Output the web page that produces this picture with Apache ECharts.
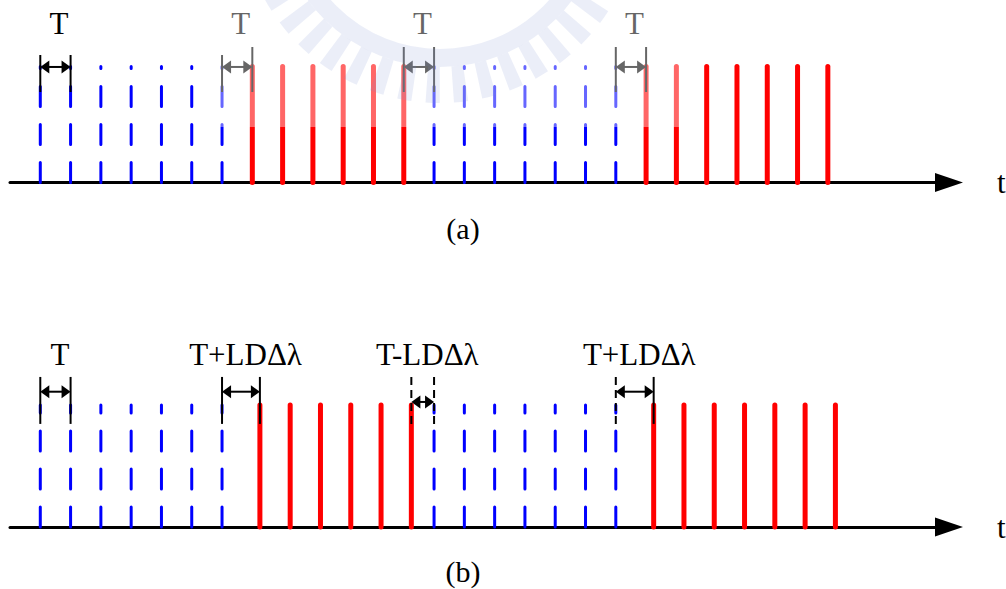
<!DOCTYPE html>
<html><head><meta charset="utf-8">
<script src="https://cdn.jsdelivr.net/npm/echarts@6/dist/echarts.min.js"></script>
<style>html,body{margin:0;padding:0;background:#fff}#c{width:1006px;height:589px}</style>
</head><body><div id="c"></div>
<script>
// ---- data (time in units of T) ----
const blueTimesA = [0,1,2,3,4,5,6,13,14,15,16,17,18,19];
const redTimesA  = [7,8,9,10,11,12,20,21,22,23,24,25,26];
const blueTimesB = [0,1,2,3,4,5,6,13,14,15,16,17,18,19];
const redTimesB  = [7.25,8.25,9.25,10.25,11.25,12.25,20.25,21.25,22.25,23.25,24.25,25.25,26.25];
const pulseAmp = 1;
const intervalsA = [[0,1],[6,7],[12,13],[19,20]];
const labelsA = ['T','T','T','T'];
const intervalsB = [[0,1],[6,7.25],[12.25,13],[19,20.25]];
const labelsB = ['T','T+LDΔλ','T-LDΔλ','T+LDΔλ'];
const axisName = 't';
const panelNames = ['(a)','(b)'];

// ---- layout / style (value units of each panel's y axis) ----
const FONT = '"Liberation Serif","Times New Roman",serif';
const layoutA = {arrowY:[0.996,0.996,0.996,0.996], tickTop:[[1.099,1.099],[1.099,1.168],[1.168,1.168],[1.168,1.168]],
  tickBottom:0.78, labelY:1.375, labelShift:0.12, dashed:[[0,0],[0,0],[0,0],[0,0]]};
const layoutB = {arrowY:[1.109,1.109,1.025,1.109], tickTop:[[1.23,1.23],[1.23,1.23],[1.23,1.23],[1.23,1.23]],
  tickBottom:0.845, labelY:1.418, labelShift:0.15, dashed:[[0,0],[0,0],[1,1],[1,0]]};

function pulseSeries(times, gridIdx, color, width, dash, z) {
  return {
    type:'custom', xAxisIndex:gridIdx, yAxisIndex:gridIdx, z:z, clip:false, silent:true,
    data: times.map(t => [t, pulseAmp]),
    renderItem: function (params, api) {
      const p0 = api.coord([api.value(0), 0]);
      const p1 = api.coord([api.value(0), api.value(1)]);
      return {type:'line', shape:{x1:p0[0], y1:p0[1], x2:p1[0], y2:p1[1]},
        style:{stroke:color, lineWidth:width, lineCap:'round', lineDash:dash}};
    }
  };
}

function dimSeries(intervals, labels, gridIdx, L) {
  return {
    type:'custom', xAxisIndex:gridIdx, yAxisIndex:gridIdx, z:5, clip:false, silent:true,
    data: intervals.map((iv, i) => [iv[0], iv[1], i]),
    renderItem: function (params, api) {
      const t1 = api.value(0), t2 = api.value(1), i = api.value(2);
      const a1 = api.coord([t1, L.arrowY[i]]), a2 = api.coord([t2, L.arrowY[i]]);
      const y = a1[1], x1 = a1[0], x2 = a2[0];
      const hl = 9, hw = 6.5;
      const kids = [];
      [[t1,0],[t2,1]].forEach(([t, s]) => {
        const top = api.coord([t, L.tickTop[i][s]]), bot = api.coord([t, L.tickBottom]);
        kids.push({type:'line', shape:{x1:top[0], y1:top[1], x2:bot[0], y2:bot[1]},
          style:{stroke:'#000', lineWidth:2, lineDash: L.dashed[i][s] ? [8,5] : null}});
      });
      kids.push({type:'line', shape:{x1:x1+hl-1, y1:y, x2:x2-hl+1, y2:y}, style:{stroke:'#000', lineWidth:2}});
      kids.push({type:'polygon', shape:{points:[[x1,y],[x1+hl,y-hw],[x1+hl,y+hw]]}, style:{fill:'#000'}});
      kids.push({type:'polygon', shape:{points:[[x2,y],[x2-hl,y-hw],[x2-hl,y+hw]]}, style:{fill:'#000'}});
      const lp = api.coord([(t1+t2)/2 + L.labelShift, L.labelY]);
      kids.push({type:'text', style:{x:lp[0], y:lp[1], text:labels[i], fill:'#000',
        font:'31px ' + FONT, align:'center', verticalAlign:'middle'}});
      return {type:'group', children:kids};
    }
  };
}

const xAxisBase = {
  type:'value', min:-1, max:30, name:axisName, nameLocation:'end', nameGap:48,
  nameTextStyle:{fontFamily:FONT, fontSize:31, color:'#000', verticalAlign:'middle', align:'left'},
  axisLine:{show:true, symbol:['none','triangle'], symbolSize:[19,28], lineStyle:{color:'#000', width:3}},
  axisTick:{show:false}, axisLabel:{show:false}, splitLine:{show:false}
};

const WM = 'rgba(120,140,210,0.15)';
const chart = echarts.init(document.getElementById('c'), null, {renderer:'svg'});
chart.setOption({
  animation:false,
  backgroundColor:'#fff',
  grid:[
    {left:10, right:57, top:8.5, bottom:406.5, containLabel:false, outerBoundsMode:'none'},
    {left:10, right:57, top:344, bottom:62, containLabel:false, outerBoundsMode:'none'}
  ],
  xAxis:[Object.assign({gridIndex:0}, xAxisBase), Object.assign({gridIndex:1}, xAxisBase)],
  yAxis:[
    {gridIndex:0, type:'value', min:0, max:1.5, show:false},
    {gridIndex:1, type:'value', min:0, max:1.5, show:false}
  ],
  series:[
    pulseSeries(blueTimesA, 0, '#0000ff', 3, [20,18], 3),
    pulseSeries(redTimesA, 0, '#ff0000', 5, null, 3),
    pulseSeries(blueTimesB, 1, '#0000ff', 3, [20,18], 3),
    pulseSeries(redTimesB, 1, '#ff0000', 5, null, 3),
    dimSeries(intervalsA, labelsA, 0, layoutA),
    dimSeries(intervalsB, labelsB, 1, layoutB)
  ],
  graphic:[
    {type:'text', x:463, y:228, z:50, style:{text:panelNames[0], fill:'#000', font:'30px ' + FONT, align:'center', verticalAlign:'middle'}},
    {type:'text', x:463, y:571, z:50, style:{text:panelNames[1], fill:'#000', font:'30px ' + FONT, align:'center', verticalAlign:'middle'}},
    {type:'rect', z:100, silent:true, shape:{x:208, y:0, width:482, height:127}, style:{fill:'rgba(255,255,255,0.4)'}},
    {type:'arc', z:101, silent:true, shape:{cx:440, cy:-97, r:155, startAngle:0, endAngle:Math.PI, clockwise:true},
      style:{stroke:WM, lineWidth:18, fill:'none'}},
    {type:'arc', z:101, silent:true, shape:{cx:440, cy:-97, r:182, startAngle:0, endAngle:Math.PI, clockwise:true},
      style:{stroke:WM, lineWidth:36, lineDash:[13,13], fill:'none'}}
  ]
});
</script></body></html>
